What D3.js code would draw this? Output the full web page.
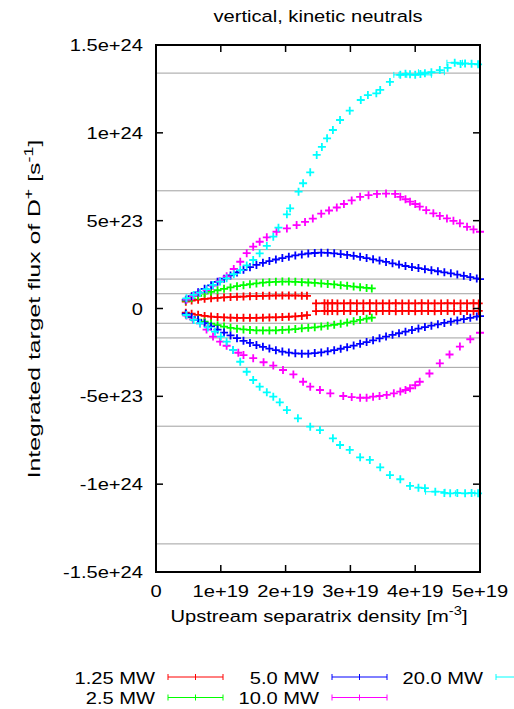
<!DOCTYPE html>
<html>
<head>
<meta charset="utf-8">
<script src="https://cdn.jsdelivr.net/npm/d3@7"></script>
<style>
  body { margin: 0; background: #fff; }
  svg { display: block; }
  text { font-family: "Liberation Sans", Arial, sans-serif; font-size: 16.5px; fill: #000; }
</style>
</head>
<body>
<svg></svg>
<script>
const width = 514;
const height = 709;
const plotLeft = 156, plotRight = 480, plotTop = 45, plotBottom = 572;
const sx = 1.22; // the original text is stretched horizontally

// x in units of 1e19 m^-3, y in units of 1e23 s^-1
const xTicks = [0, 1, 2, 3, 4, 5];
const xTickLabels = ["0", "1e+19", "2e+19", "3e+19", "4e+19", "5e+19"];
const yTicks = [15, 10, 5, 0, -5, -10, -15];
const yTickLabels = ["1.5e+24", "1e+24", "5e+23", "0", "-5e+23", "-1e+24", "-1.5e+24"];
const refLines = [13.4, 6.7, 3.35, 1.675, 0.84, -0.84, -1.675, -3.35, -6.7, -13.4];

const red1Pos = [[0.46,0.39],[0.55,0.45],[0.65,0.5],[0.75,0.55],[0.85,0.58],[0.95,0.61],[1.05,0.63],[1.15,0.65],[1.25,0.67],[1.35,0.68],[1.45,0.7],[1.55,0.71],[1.65,0.72],[1.75,0.73],[1.85,0.74],[1.95,0.74],[2.05,0.74],[2.15,0.74],[2.25,0.73],[2.33,0.72]];
const red1Neg = [[0.46,-0.24],[0.55,-0.3],[0.65,-0.36],[0.75,-0.42],[0.85,-0.46],[0.95,-0.49],[1.05,-0.51],[1.15,-0.52],[1.25,-0.53],[1.35,-0.53],[1.45,-0.53],[1.55,-0.53],[1.65,-0.52],[1.75,-0.51],[1.85,-0.5],[1.95,-0.49],[2.05,-0.47],[2.15,-0.45],[2.25,-0.42],[2.33,-0.38]];
const red2Pos = [[2.47,0.29],[2.6,0.3],[2.65,0.29],[2.72,0.3],[2.8,0.29],[2.9,0.29],[3.0,0.3],[3.1,0.29],[3.2,0.29],[3.3,0.3],[3.4,0.29],[3.5,0.29],[3.6,0.29],[3.7,0.3],[3.8,0.29],[3.9,0.29],[4.0,0.29],[4.1,0.3],[4.2,0.29],[4.3,0.29],[4.4,0.29],[4.5,0.3],[4.6,0.29],[4.7,0.29],[4.8,0.29],[4.9,0.3],[4.98,0.29]];
const red2Neg = [[2.47,-0.15],[2.6,-0.14],[2.65,-0.15],[2.72,-0.14],[2.8,-0.15],[2.9,-0.14],[3.0,-0.14],[3.1,-0.15],[3.2,-0.14],[3.3,-0.14],[3.4,-0.15],[3.5,-0.14],[3.6,-0.14],[3.7,-0.15],[3.8,-0.14],[3.9,-0.14],[4.0,-0.15],[4.1,-0.14],[4.2,-0.14],[4.3,-0.15],[4.4,-0.14],[4.5,-0.14],[4.6,-0.15],[4.7,-0.14],[4.8,-0.14],[4.9,-0.15],[4.98,-0.14]];

const greenPos = [[0.46,0.45],[0.55,0.58],[0.65,0.72],[0.75,0.85],[0.85,0.95],[0.95,1.04],[1.05,1.12],[1.15,1.2],[1.25,1.27],[1.35,1.33],[1.45,1.38],[1.55,1.43],[1.65,1.47],[1.75,1.5],[1.85,1.52],[1.95,1.53],[2.05,1.53],[2.15,1.52],[2.25,1.5],[2.35,1.48],[2.45,1.46],[2.55,1.43],[2.65,1.4],[2.75,1.37],[2.85,1.33],[2.95,1.29],[3.05,1.25],[3.15,1.21],[3.25,1.17],[3.33,1.14]];
const greenNeg = [[0.46,-0.35],[0.55,-0.5],[0.65,-0.63],[0.75,-0.75],[0.85,-0.86],[0.95,-0.95],[1.05,-1.03],[1.15,-1.1],[1.25,-1.15],[1.35,-1.19],[1.45,-1.22],[1.55,-1.24],[1.65,-1.25],[1.75,-1.25],[1.85,-1.24],[1.95,-1.22],[2.05,-1.2],[2.15,-1.17],[2.25,-1.13],[2.35,-1.1],[2.45,-1.07],[2.55,-1.03],[2.65,-0.98],[2.75,-0.93],[2.85,-0.87],[2.95,-0.8],[3.05,-0.73],[3.15,-0.65],[3.25,-0.58],[3.33,-0.52]];

const bluePos = [[0.46,0.5],[0.55,0.7],[0.65,0.92],[0.75,1.12],[0.85,1.32],[0.95,1.52],[1.05,1.7],[1.15,1.88],[1.25,2.05],[1.35,2.2],[1.45,2.35],[1.55,2.48],[1.65,2.6],[1.75,2.7],[1.85,2.79],[1.95,2.87],[2.05,2.95],[2.15,3.02],[2.25,3.08],[2.35,3.13],[2.45,3.16],[2.55,3.18],[2.65,3.17],[2.75,3.14],[2.85,3.1],[2.95,3.05],[3.05,3.0],[3.15,2.94],[3.25,2.87],[3.35,2.8],[3.45,2.73],[3.55,2.65],[3.65,2.57],[3.75,2.5],[3.85,2.42],[3.95,2.36],[4.05,2.3],[4.15,2.24],[4.25,2.18],[4.35,2.12],[4.45,2.06],[4.55,2.0],[4.65,1.93],[4.75,1.86],[4.85,1.79],[4.95,1.71],[5.0,1.67]];
const blueNeg = [[0.46,-0.3],[0.55,-0.48],[0.65,-0.66],[0.75,-0.84],[0.85,-1.02],[0.95,-1.2],[1.05,-1.37],[1.15,-1.53],[1.25,-1.69],[1.35,-1.84],[1.45,-1.96],[1.55,-2.08],[1.65,-2.18],[1.75,-2.28],[1.85,-2.37],[1.95,-2.45],[2.05,-2.51],[2.15,-2.55],[2.25,-2.57],[2.35,-2.57],[2.45,-2.54],[2.55,-2.5],[2.65,-2.44],[2.75,-2.37],[2.85,-2.29],[2.95,-2.2],[3.05,-2.11],[3.15,-2.01],[3.25,-1.91],[3.35,-1.81],[3.45,-1.7],[3.55,-1.6],[3.65,-1.5],[3.75,-1.41],[3.85,-1.32],[3.95,-1.23],[4.05,-1.14],[4.15,-1.06],[4.25,-0.98],[4.35,-0.9],[4.45,-0.82],[4.55,-0.75],[4.65,-0.68],[4.75,-0.6],[4.85,-0.53],[4.95,-0.46],[5.0,-0.43]];

const magentaPos = [[0.47,0.5],[0.57,0.7],[0.67,0.88],[0.78,1.05],[0.88,1.3],[0.98,1.55],[1.09,1.83],[1.2,2.25],[1.3,2.66],[1.4,3.15],[1.5,3.52],[1.6,3.8],[1.71,4.05],[1.86,4.37],[2.02,4.56],[2.17,4.75],[2.3,4.93],[2.42,5.12],[2.55,5.4],[2.67,5.58],[2.79,5.75],[2.9,5.95],[3.02,6.15],[3.15,6.36],[3.28,6.45],[3.41,6.52],[3.55,6.54],[3.69,6.52],[3.77,6.36],[3.85,6.22],[3.92,6.08],[4.0,5.95],[4.07,5.8],[4.17,5.6],[4.28,5.42],[4.38,5.27],[4.49,5.13],[4.59,4.99],[4.69,4.85],[4.8,4.65],[4.9,4.5],[5.0,4.37]];
const magentaNeg = [[0.47,-0.4],[0.57,-0.62],[0.68,-0.85],[0.78,-1.2],[0.88,-1.6],[0.99,-1.89],[1.09,-2.12],[1.19,-2.36],[1.27,-2.52],[1.35,-2.65],[1.5,-2.83],[1.66,-3.06],[1.81,-3.25],[1.96,-3.5],[2.12,-3.75],[2.27,-4.17],[2.38,-4.45],[2.53,-4.64],[2.69,-4.83],[2.89,-4.98],[3.02,-5.04],[3.15,-5.08],[3.25,-5.08],[3.35,-5.02],[3.45,-4.98],[3.56,-4.92],[3.67,-4.83],[3.77,-4.73],[3.85,-4.64],[3.92,-4.54],[4.0,-4.37],[4.07,-4.17],[4.22,-3.7],[4.38,-3.12],[4.53,-2.62],[4.69,-2.17],[4.85,-1.75],[5.0,-1.38]];

const cyanPos = [[0.47,0.58],[0.58,0.77],[0.68,0.9],[0.78,1.1],[0.88,1.34],[0.99,1.53],[1.09,1.72],[1.2,1.95],[1.3,2.19],[1.4,2.45],[1.5,2.76],[1.6,3.14],[1.71,3.56],[1.81,4.09],[1.89,4.6],[2.02,5.36],[2.07,5.7],[2.2,6.65],[2.27,7.13],[2.38,7.75],[2.48,8.74],[2.56,9.2],[2.64,9.69],[2.73,10.16],[2.84,10.73],[2.99,11.26],[3.16,11.87],[3.27,12.15],[3.4,12.25],[3.46,12.44],[3.61,12.9],[3.77,13.3],[3.85,13.36],[3.92,13.33],[4.0,13.3],[4.08,13.35],[4.15,13.39],[4.25,13.45],[4.38,13.57],[4.5,13.7],[4.61,13.99],[4.7,13.92],[4.77,13.95],[4.87,13.93],[4.97,13.9]];
const cyanNeg = [[0.47,-0.37],[0.58,-0.65],[0.68,-0.84],[0.8,-1.08],[0.91,-1.32],[1.0,-1.6],[1.09,-1.89],[1.19,-2.36],[1.3,-3.03],[1.4,-3.6],[1.5,-4.07],[1.6,-4.45],[1.71,-4.77],[1.81,-5.02],[1.91,-5.34],[2.02,-5.78],[2.19,-6.25],[2.38,-6.73],[2.53,-6.92],[2.73,-7.39],[2.84,-7.77],[2.99,-8.05],[3.15,-8.47],[3.3,-8.62],[3.46,-9.04],[3.61,-9.48],[3.77,-9.72],[3.92,-10.1],[4.05,-10.2],[4.15,-10.23],[4.31,-10.43],[4.45,-10.5],[4.54,-10.52],[4.65,-10.5],[4.77,-10.52],[4.87,-10.5],[4.97,-10.52]];
// a few visible x error bars on the 20 MW points: [x, y, dx]
const cyanErr = [[4.0,13.3,0.25],[4.25,13.45,0.2],[4.61,13.99,0.12],[4.87,13.93,0.1],[3.77,13.3,0.1],[4.31,-10.43,0.15],[4.77,-10.52,0.15]];

// only the 1.25 MW runs show a connecting line
const series = [
  { name: "1.25 MW", color: "#ff0000", joined: true, parts: [red1Pos, red1Neg, red2Pos, red2Neg] },
  { name: "2.5 MW", color: "#00ff00", joined: false, parts: [greenPos, greenNeg] },
  { name: "5.0 MW", color: "#0000ff", joined: false, parts: [bluePos, blueNeg] },
  { name: "10.0 MW", color: "#ff00ff", joined: false, parts: [magentaPos, magentaNeg] },
  { name: "20.0 MW", color: "#00ffff", joined: false, parts: [cyanPos, cyanNeg] }
];

const svg = d3.select("svg").attr("width", width).attr("height", height);

const xScale = d3.scaleLinear().domain([0, 5]).range([plotLeft, plotRight]);
const yScale = d3.scaleLinear().domain([-15, 15]).range([plotBottom, plotTop]);

function label(x, y, str, anchor, rotate, stretch) {
  const g = svg.append("g")
    .attr("transform", `translate(${x},${y})` + (rotate ? ` rotate(${rotate})` : "") + ` scale(${stretch || sx},1)`);
  return g.append("text").attr("text-anchor", anchor || "start").text(str);
}

// reference lines
svg.append("g").selectAll("line")
  .data(refLines)
  .enter()
  .append("line")
    .attr("x1", plotLeft).attr("x2", plotRight)
    .attr("y1", d => yScale(d)).attr("y2", d => yScale(d))
    .attr("stroke", "#a0a0a0")
    .attr("stroke-width", 1);

// series
const line = d3.line().x(d => xScale(d[0])).y(d => yScale(d[1]));
const arm = 4;
series.forEach(s => {
  const g = svg.append("g").attr("stroke", s.color).attr("fill", "none");
  s.parts.forEach(p => {
    if (s.joined) g.append("path").attr("d", line(p)).attr("stroke-width", 1.2);
    g.selectAll(null)
      .data(p)
      .enter()
      .append("path")
        .attr("stroke-width", 1.8)
        .attr("d", d => {
          const x = xScale(d[0]), y = yScale(d[1]);
          return `M${x - arm},${y}H${x + arm}M${x},${y - arm}V${y + arm}`;
        });
  });
});

svg.append("g").attr("stroke", "#00ffff").attr("fill", "none").attr("stroke-width", 1)
  .selectAll("path")
  .data(cyanErr)
  .enter()
  .append("path")
    .attr("d", d => {
      const x0 = xScale(d[0] - d[2]), x1 = xScale(d[0] + d[2]), y = yScale(d[1]);
      return `M${x0},${y}H${x1}M${x0},${y - 3}V${y + 3}M${x1},${y - 3}V${y + 3}`;
    });

// frame and ticks
svg.append("rect")
  .attr("x", plotLeft).attr("y", plotTop)
  .attr("width", plotRight - plotLeft).attr("height", plotBottom - plotTop)
  .attr("fill", "none").attr("stroke", "#000").attr("stroke-width", 2);

const tickLen = 7;
const ticks = svg.append("g").attr("stroke", "#000").attr("stroke-width", 1.5);
xTicks.forEach(t => {
  ticks.append("line").attr("x1", xScale(t)).attr("x2", xScale(t)).attr("y1", plotBottom).attr("y2", plotBottom - tickLen);
  ticks.append("line").attr("x1", xScale(t)).attr("x2", xScale(t)).attr("y1", plotTop).attr("y2", plotTop + tickLen);
});
yTicks.forEach(t => {
  ticks.append("line").attr("x1", plotLeft).attr("x2", plotLeft + tickLen).attr("y1", yScale(t)).attr("y2", yScale(t));
  ticks.append("line").attr("x1", plotRight).attr("x2", plotRight - tickLen).attr("y1", yScale(t)).attr("y2", yScale(t));
});

xTicks.forEach((t, i) => label(xScale(t), 597, xTickLabels[i], "middle"));
yTicks.forEach((t, i) => label(143, yScale(t) + 6, yTickLabels[i], "end"));

// titles
label(318, 22, "vertical, kinetic neutrals", "middle");

const xl = label(319, 622, "Upstream separatrix density [m", "middle");
xl.append("tspan").attr("dy", -7).style("font-size", "12px").text("-3");
xl.append("tspan").attr("dy", 7).text("]");

const yl = label(40, 309, "Integrated target flux of D", "middle", -90, 1.5);
yl.append("tspan").attr("dy", -7).style("font-size", "12px").text("+");
yl.append("tspan").attr("dy", 7).text(" [s");
yl.append("tspan").attr("dy", -7).style("font-size", "12px").text("-1");
yl.append("tspan").attr("dy", 7).text("]");

// legend
const legendOrder = [0, 1, 2, 3, 4];
legendOrder.forEach((idx, k) => {
  const s = series[idx];
  const col = Math.floor(k / 2), row = k % 2;
  const tx = 155 + col * 164;
  const ly = 677 + row * 20.5;
  label(tx, ly + 6.5, s.name, "end");
  const x0 = tx + 13, x1 = tx + 68, xm = (x0 + x1) / 2;
  svg.append("path")
    .attr("stroke", s.color).attr("fill", "none").attr("stroke-width", 1)
    .attr("d", `M${x0},${ly}H${x1}M${x0},${ly - 3}V${ly + 3}M${x1},${ly - 3}V${ly + 3}M${xm},${ly - 3}V${ly + 3}`);
});
</script>
</body>
</html>
